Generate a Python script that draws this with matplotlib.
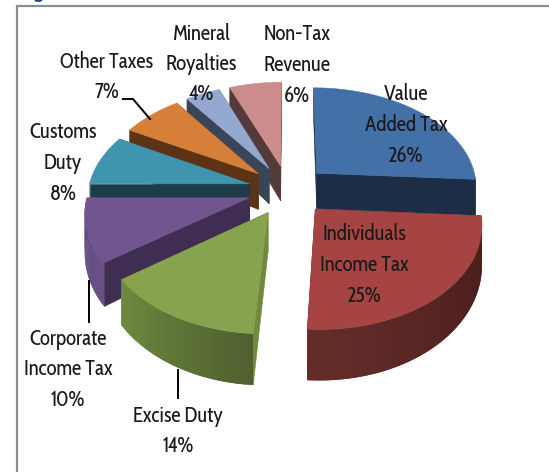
#!/usr/bin/env python3
"""
Revenue composition - exploded 3D pie drawn with plain polygons
"""
import numpy as np
import matplotlib
matplotlib.use("Agg")
import matplotlib.pyplot as plt
from matplotlib.patches import Polygon

plt.rcParams["font.family"] = ["Cabin Condensed", "Lato", "DejaVu Sans"]

# --- data ---
shares = [26, 25, 14, 10, 8, 7, 4, 6]
label_text = ["Value\nAdded Tax", "Individuals\nIncome Tax", "Excise Duty", "Corporate\nIncome Tax",
              "Customs\nDuty", "Other Taxes", "Mineral\nRoyalties", "Non-Tax\nRevenue"]
label_pos = [(406, 125), (364, 265), (178, 431), (68, 369),
             (63, 163), (107, 77), (201, 64), (297, 65)]

top_col  = ["#4470a8", "#a54442", "#87a34e", "#71558f", "#3f94ae", "#d57f39", "#94a9cf", "#cb8c8b"]
wall_col = ["#1b2e45", "#451c19", "#6f8a3f", "#3f2e52", "#1b3c48", "#5c3415", "#3a4558", "#553a3a"]
rim_from = ["#1b2e45", "#451c19", "#4f6030", "#6b5187", "#1b3c48", "#5c3415", "#3a4558", "#553a3a"]
rim_to   = ["#1b2e45", "#652d2a", "#6f8a3f", "#5d4677", "#1b3c48", "#5c3415", "#3a4558", "#553a3a"]

# --- projection of the pie plane onto the page (pixels) ---
CX, CY = 288, 190
RX, RY = 161, 100
PERSP = 8.0
DEPTH = 37
EXPLODE = 0.25


def project(u, v, drop=0.0):
    p = 1 / (1 - v / PERSP)
    return CX + RX * u * p, CY + RY * v * p + DEPTH * drop * p ** 2


def blend(a, b, t):
    a, b = matplotlib.colors.to_rgb(a), matplotlib.colors.to_rgb(b)
    return tuple(x + (y - x) * t for x, y in zip(a, b))


fig = plt.figure(figsize=(5.49, 4.72), dpi=100)
ax = fig.add_axes([0, 0, 1, 1])
ax.set_xlim(0, 549)
ax.set_ylim(472, 0)
ax.axis("off")

# frame and the bottom of the caption above it
ax.plot([549, 17, 17], [6, 6, 472], color="#8c8c8c", lw=1.6, solid_joinstyle="miter")
ax.text(44, -1, "Fig", color="#1f3a7a", fontsize=13, fontweight="bold", ha="right", va="baseline",
        family="Lato")

# slice angles, clockwise from twelve o'clock
edges = np.cumsum([0] + shares) / sum(shares) * 2 * np.pi
slices = []
for i in range(len(shares)):
    slices.append((-np.cos((edges[i] + edges[i + 1]) / 2), i))

# back to front so nearer slices cover the others
for _, i in sorted(slices):
    a0, a1 = edges[i], edges[i + 1]
    mid = (a0 + a1) / 2
    ou, ov = EXPLODE * np.sin(mid), -EXPLODE * np.cos(mid)
    th = np.linspace(a0, a1, 60)
    us, vs = ou + np.sin(th), ov - np.cos(th)

    # flat walls from the apex out to each edge
    for a in (a0, a1):
        eu, ev = ou + np.sin(a), ov - np.cos(a)
        quad = [project(ou, ov), project(eu, ev), project(eu, ev, 1), project(ou, ov, 1)]
        ax.add_patch(Polygon(quad, fc=wall_col[i], ec=wall_col[i], lw=0.4))

    # outer rim, only the part turned to the viewer; each strip runs under the next
    for k in range(len(th) - 1):
        if np.cos(th[k]) > 0:
            continue
        n = min(k + 2, len(th) - 1)
        quad = [project(us[k], vs[k]), project(us[n], vs[n]),
                project(us[n], vs[n], 1), project(us[k], vs[k], 1)]
        c = blend(rim_from[i], rim_to[i], k / (len(th) - 2))
        ax.add_patch(Polygon(quad, fc=c, ec="none"))

    outline = [project(ou, ov)] + [project(u, v) for u, v in zip(us, vs)]
    ax.add_patch(Polygon(outline, fc=top_col[i], ec=top_col[i], lw=0.4))

# leader lines
for xs, ys in [([123, 133, 150], [99, 99, 119]), ([89, 89], [281, 322]), ([178, 178], [370, 398])]:
    ax.plot(xs, ys, color="black", lw=1.4, solid_joinstyle="miter")

for txt, pct, (x, y) in zip(label_text, shares, label_pos):
    ax.text(x, y, f"{txt}\n{pct}%", ha="center", va="center", ma="center",
            fontsize=15, color="#1a1a1a", linespacing=1.5)

fig.savefig("out.png", dpi=100)
